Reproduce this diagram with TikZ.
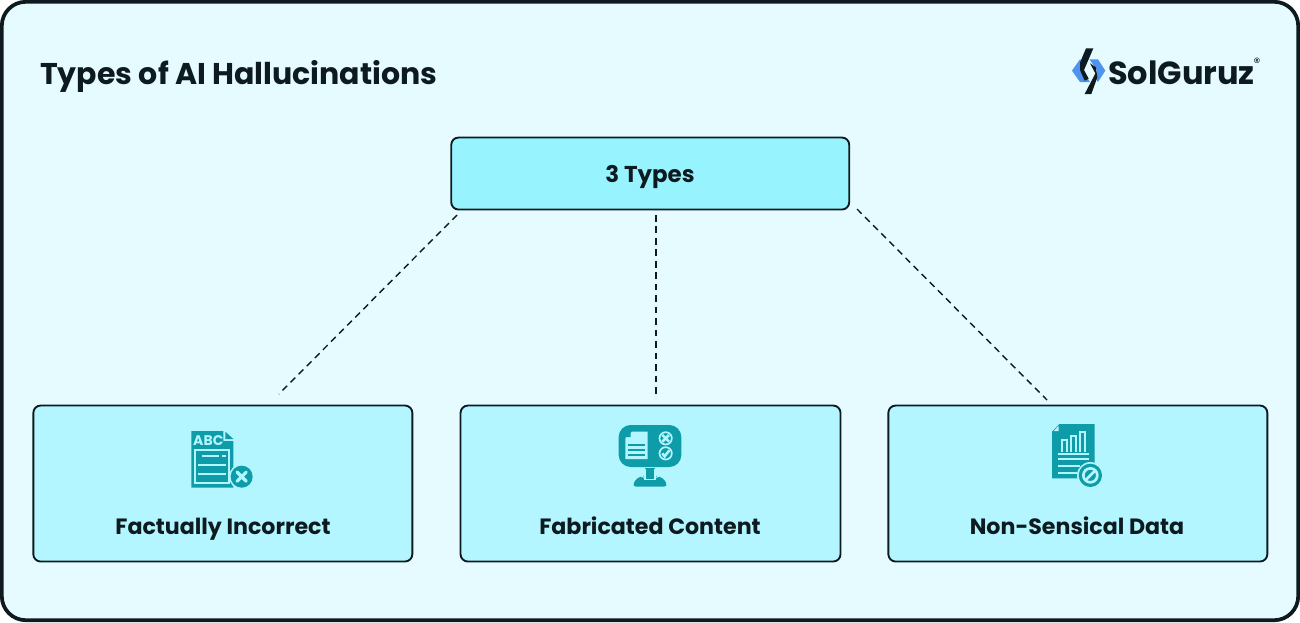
\documentclass[tikz,border=0pt]{standalone}
\usepackage{fontspec}
\setmainfont{Poppins}
\usetikzlibrary{arrows.meta}
\definecolor{cardbg}{HTML}{E6FBFF}
\definecolor{ink}{HTML}{0D1B20}
\definecolor{topfill}{HTML}{97F4FF}
\definecolor{boxfill}{HTML}{B3F6FF}
\definecolor{iconc}{HTML}{0E9CA9}
\definecolor{logoblue}{HTML}{4F93F0}
\tikzset{
  boxstyle/.style={draw=ink,line width=1.4pt,rounded corners=5.5pt,inner sep=0pt,anchor=north west,align=center},
  toplabel/.style={font=\bfseries\fontsize{17.2}{20}\selectfont,text=ink,inner sep=0pt,anchor=base},
  boxlabel/.style={font=\bfseries\fontsize{16.6}{20}\selectfont,text=ink,inner sep=0pt,anchor=base},
  dashline/.style={draw=ink,line width=1.05pt,dash pattern=on 5pt off 3.6pt},
  iconrule/.style={draw=boxfill,line width=1.3pt,line cap=butt},
  zoomed/.style={shift={#1},xscale=1/3,yscale=1/3}
}
\begin{document}
\begin{tikzpicture}[x=0.75pt,y=-0.75pt]
\useasboundingbox (0,0) rectangle (1300,622);
\fill[white] (0,0) rectangle (1300,622);
\draw[draw=ink,fill=cardbg,line width=2.8pt,rounded corners=18pt] (1.8,1.8) rectangle (1298.2,620.2);

\node[anchor=base west,inner sep=0pt,text=ink,font=\bfseries\fontsize{22.5}{28}\selectfont] (title) at (40,84) {Types of AI Hallucinations};

% logo
\begin{scope}[zoomed={(1068,44)}]
\fill[logoblue] (36,46) -- (12,80) -- (36,114) -- (66,114) -- (42,80) -- (56,58) -- cycle;
\fill[logoblue] (64,46) -- (90,46) -- (112,80) -- (90,114) -- (80,100) -- (88,80) -- cycle;
\fill[ink] (54,13) -- (76,13) -- (48,78) -- (62,104) -- (50,110) -- (36,78) -- (36,56) -- cycle;
\fill[ink] (66,58) -- (84,70) -- (88,100) -- (70,150) -- (50,150) -- (74,104) -- (82,88) -- cycle;
\end{scope}
\node[anchor=base west,inner sep=0pt,text=ink,font=\bfseries\fontsize{24}{30}\selectfont] (logotext) at (1108,84) {SolGuruz};
\node[anchor=center,inner sep=0pt,text=ink,font=\fontsize{10}{11}\selectfont] (logoreg) at (1257,63) {®};

% boxes
\node[boxstyle,fill=topfill,minimum width=398*0.75pt,minimum height=72*0.75pt] (top) at (450.3,136.6) {};
\node[toplabel] (toptext) at (650,182) {3 Types};
\node[boxstyle,fill=boxfill,minimum width=379*0.75pt,minimum height=156*0.75pt] (b1) at (32.4,404.6) {};
\node[boxstyle,fill=boxfill,minimum width=380*0.75pt,minimum height=156*0.75pt] (b2) at (459.6,404.6) {};
\node[boxstyle,fill=boxfill,minimum width=379*0.75pt,minimum height=156*0.75pt] (b3) at (887.4,404.6) {};
\node[boxlabel] (t1) at (223,534) {Factually Incorrect};
\node[boxlabel] (t2) at (650,534) {Fabricated Content};
\node[boxlabel] (t3) at (1077,534) {Non-Sensical Data};

% connectors
\coordinate (c1a) at (457,215); \coordinate (c1b) at (279,394);
\coordinate (c2a) at (656,215); \coordinate (c2b) at (656,396);
\coordinate (c3a) at (857,209); \coordinate (c3b) at (1047,400);
\draw[dashline] (c1a) -- (c1b);
\draw[dashline] (c2a) -- (c2b);
\draw[dashline] (c3a) -- (c3b);

% icon 1
\begin{scope}[zoomed={(170,415)}]
\fill[iconc] (64,48) -- (160,48) -- (160,78) -- (190,78) -- (190,218) -- (64,218) -- cycle;
\fill[iconc] (166,50) -- (190,72) -- (166,72) -- cycle;
\draw[boxfill,line width=1.3pt] (76,106) rectangle (176,205);
\draw[iconrule] (96,124) -- (146,124) (156,124) -- (168,124);
\draw[iconrule] (84,150) -- (168,150);
\draw[iconrule] (84,176) -- (168,176);
\node[text=boxfill,inner sep=0pt,font=\bfseries\fontsize{10.5}{12}\selectfont] (abc) at (115,78) {ABC};
\fill[boxfill] (215,185) circle (38);
\fill[iconc] (215,185) circle (33);
\draw[boxfill,line width=2.4pt,line cap=round] (201,171) -- (229,199) (229,171) -- (201,199);
\end{scope}

% icon 2
\begin{scope}[zoomed={(600,415)}]
\fill[iconc,rounded corners=9pt] (56,30) rectangle (244,156);
\fill[iconc] (136,160) rectangle (164,192);
\fill[iconc,rounded corners=3pt] (96,215) -- (110,188) -- (130,183) -- (134,192) -- (166,192) -- (170,183) -- (190,188) -- (204,215) -- cycle;
\draw[boxfill,line width=1.1pt] (135,162) -- (135,193) -- (165,193) -- (165,162);
\fill[boxfill] (96,50) -- (143,50) -- (143,132) -- (76,132) -- (76,70) -- cycle;
\fill[iconc] (92,52) -- (92,66) -- (78,66) -- cycle;
\draw[iconc,line width=1.3pt] (84,90) -- (136,90) (84,105) -- (136,105) (84,120) -- (136,120);
\draw[boxfill,line width=1.3pt,fill=iconc] (197,70) circle (18.5);
\draw[boxfill,line width=1.9pt] (187,60) -- (207,80) (207,60) -- (187,80);
\draw[boxfill,line width=1.3pt,fill=iconc] (197,115) circle (18.5);
\draw[boxfill,line width=1.9pt] (187,115) -- (194,124) -- (208,106);
\end{scope}

% icon 3
\begin{scope}[zoomed={(1030,415)}]
\fill[iconc] (88,27) -- (194,27) -- (194,190) -- (66,190) -- (66,50) -- cycle;
\fill[boxfill] (86,32) -- (86,48) -- (71,48) -- cycle;
\draw[boxfill,line width=1.3pt] (96,112) -- (96,76) -- (110,76) -- (110,112);
\draw[boxfill,line width=1.3pt] (123,112) -- (123,64) -- (138,64) -- (138,112);
\draw[boxfill,line width=1.3pt] (151,112) -- (151,52) -- (166,52) -- (166,112);
\draw[boxfill,line width=1.3pt] (84,116) -- (176,116);
\draw[boxfill,line width=1.3pt] (84,131) -- (176,131);
\draw[boxfill,line width=1.3pt] (84,152) -- (150,152);
\draw[boxfill,line width=1.3pt] (84,174) -- (140,174);
\fill[boxfill] (181,181) circle (40);
\fill[iconc] (181,181) circle (35);
\draw[boxfill,line width=2pt] (181,181) circle (21);
\draw[boxfill,line width=2pt] (166,196) -- (196,166);
\end{scope}
\end{tikzpicture}
\end{document}
